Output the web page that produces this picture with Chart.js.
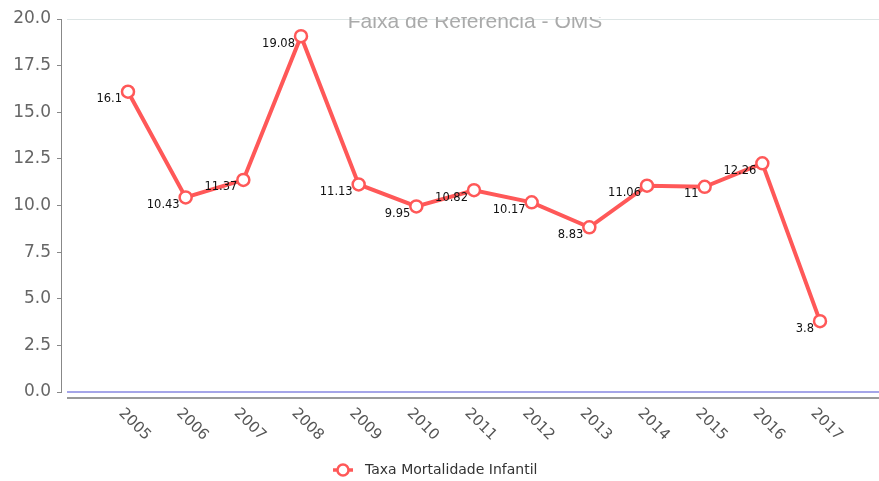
<!DOCTYPE html>
<html>
<head>
<meta charset="utf-8">
<script src="https://cdn.jsdelivr.net/npm/chart.js@4"></script>
<style>
html,body{margin:0;padding:0;background:#fff;}
#wrap{width:879px;height:481px;position:relative;}
</style>
</head>
<body>
<div id="wrap"><canvas id="c" width="879" height="481"></canvas></div>
<script>
const years = [2005, 2006, 2007, 2008, 2009, 2010, 2011, 2012, 2013, 2014, 2015, 2016, 2017];
const mortalidade = [16.1, 10.43, 11.37, 19.08, 11.13, 9.95, 10.82, 10.17, 8.83, 11.06, 11, 12.26, 3.8];
const seriesName = 'Taxa Mortalidade Infantil';
const bandLabel = 'Faixa de Referencia - OMS';
const yTicks = [0, 2.5, 5, 7.5, 10, 12.5, 15, 17.5, 20];

const RED = 'rgb(255,88,88)';

// horizontal placement of first/last category (pixels)
const FIRST_PX = 128, LAST_PX = 820;

const decor = {
  id: 'decor',
  afterLayout(chart) {
    const a = chart.chartArea, xs = chart.scales.x;
    const n = years.length - 1;
    const sp = (LAST_PX - FIRST_PX) / n;
    xs.min = years[0] - (FIRST_PX - a.left) / sp;
    xs.max = years[n] + (a.right - LAST_PX) / sp;
    xs.configure();
  },
  beforeDatasetsDraw(chart) {
    const ctx = chart.ctx, a = chart.chartArea, y = chart.scales.y;
    ctx.save();
    ctx.strokeStyle = '#dde5e5'; ctx.lineWidth = 1;
    ctx.beginPath(); ctx.moveTo(67, a.top + 0.5); ctx.lineTo(879, a.top + 0.5); ctx.stroke();
    ctx.save();
    ctx.beginPath(); ctx.rect(0, 17, 879, 40); ctx.clip();
    ctx.fillStyle = '#aaaaaa';
    ctx.font = '21px "Liberation Sans", Arial, sans-serif';
    ctx.textAlign = 'center'; ctx.textBaseline = 'alphabetic';
    ctx.fillText(bandLabel, 475, 27.5);
    ctx.restore();
    const y0 = y.getPixelForValue(0);
    ctx.strokeStyle = 'rgb(165,165,232)'; ctx.lineWidth = 2;
    ctx.beginPath(); ctx.moveTo(67, y0); ctx.lineTo(879, y0); ctx.stroke();
    ctx.strokeStyle = '#999'; ctx.lineWidth = 2;
    ctx.beginPath(); ctx.moveTo(67, y0 + 6); ctx.lineTo(879, y0 + 6); ctx.stroke();
    ctx.restore();
  },
  afterDatasetsDraw(chart) {
    const ctx = chart.ctx, meta = chart.getDatasetMeta(0), xs = chart.scales.x;
    ctx.save();
    ctx.fillStyle = '#111';
    ctx.font = '11.5px "DejaVu Sans", Verdana, sans-serif';
    ctx.textAlign = 'right'; ctx.textBaseline = 'middle';
    meta.data.forEach((p, i) => {
      ctx.fillText(String(mortalidade[i]), p.x - 6, p.y + 7.5);
    });
    ctx.fillStyle = '#555';
    ctx.font = '15px "DejaVu Sans", Verdana, sans-serif';
    ctx.textAlign = 'left'; ctx.textBaseline = 'middle';
    years.forEach((yr) => {
      const px = xs.getPixelForValue(yr);
      ctx.save();
      ctx.translate(px - 7, 411);
      ctx.rotate(Math.PI / 4);
      ctx.fillText(String(yr), 0, 0);
      ctx.restore();
    });
    const ly = 470;
    ctx.strokeStyle = RED; ctx.lineWidth = 3.5;
    ctx.beginPath(); ctx.moveTo(333, ly); ctx.lineTo(353, ly); ctx.stroke();
    ctx.beginPath(); ctx.arc(343, ly, 5.5, 0, Math.PI * 2);
    ctx.fillStyle = '#fff'; ctx.fill();
    ctx.lineWidth = 2.5; ctx.stroke();
    ctx.fillStyle = '#333';
    ctx.font = '14px "DejaVu Sans", Verdana, sans-serif';
    ctx.textAlign = 'left'; ctx.textBaseline = 'middle';
    ctx.fillText(seriesName, 365, ly);
    ctx.restore();
  }
};

new Chart(document.getElementById('c'), {
  type: 'line',
  data: {
    datasets: [{
      label: seriesName,
      data: years.map((yr, i) => ({ x: yr, y: mortalidade[i] })),
      borderColor: RED,
      backgroundColor: '#fff',
      borderWidth: 4,
      pointRadius: 6,
      pointBorderWidth: 2.5,
      pointBackgroundColor: '#fff',
      pointBorderColor: RED,
      tension: 0,
      fill: false
    }]
  },
  options: {
    responsive: false,
    animation: false,
    layout: { padding: { top: 19, left: 0, right: 0, bottom: 0 } },
    plugins: { legend: { display: false }, tooltip: { enabled: false } },
    scales: {
      x: {
        type: 'linear',
        min: 2003.84,
        max: 2018.03,
        ticks: { display: false },
        grid: { display: false },
        border: { display: false },
        afterFit(s) { s.height = 89; }
      },
      y: {
        min: 0,
        max: 20,
        afterBuildTicks(s) { s.ticks = yTicks.map(v => ({ value: v })); },
        ticks: {
          callback: v => Number(v).toFixed(1),
          color: '#666',
          font: { family: '"DejaVu Sans", Verdana, sans-serif', size: 17 },
          padding: 6
        },
        grid: { drawOnChartArea: false, tickLength: 4, color: '#888', lineWidth: 1 },
        border: { color: '#888', width: 1 },
        afterFit(s) { s.width = 61; }
      }
    }
  },
  plugins: [decor]
});
</script>
</body>
</html>
